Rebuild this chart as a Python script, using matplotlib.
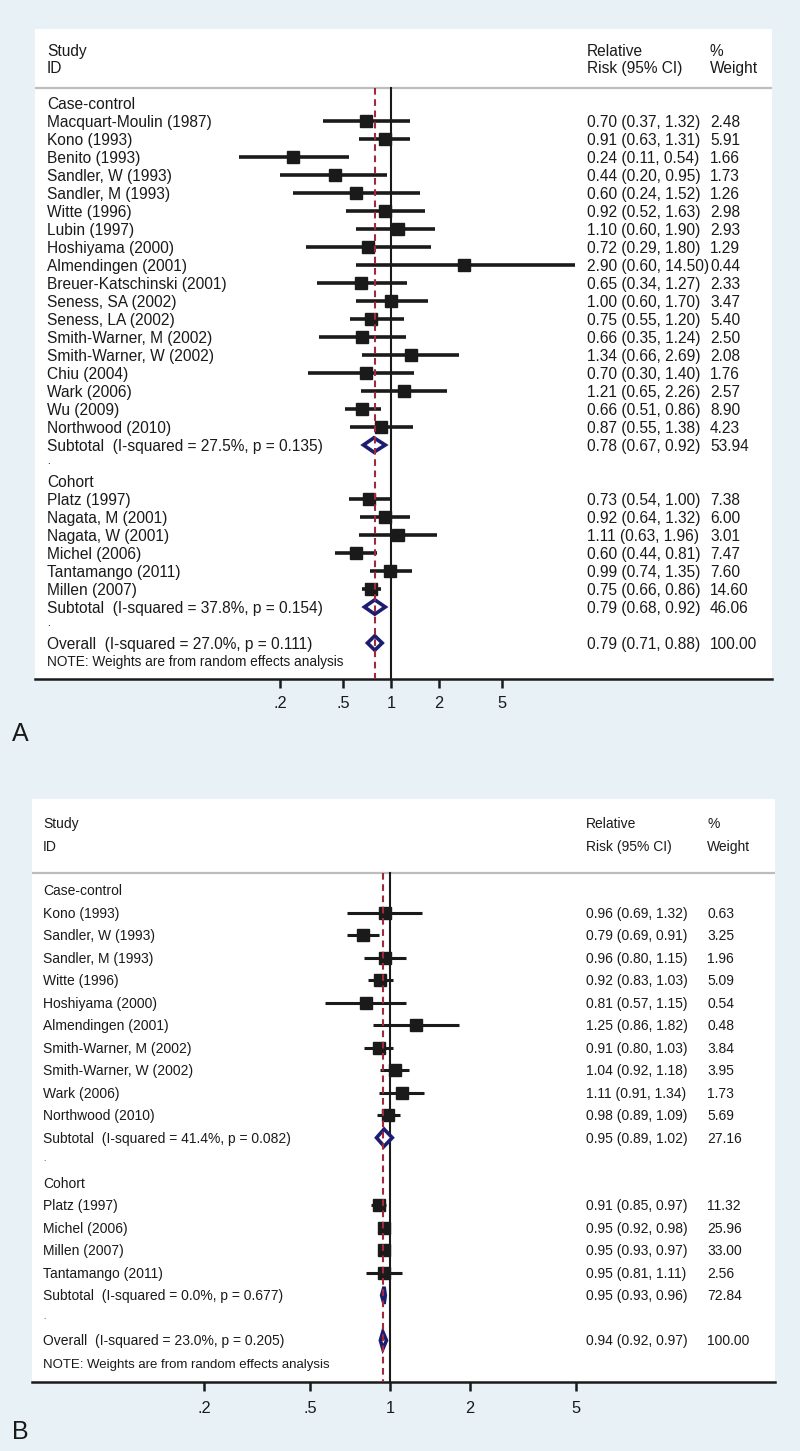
import numpy as np
import matplotlib
matplotlib.use("Agg")
import matplotlib.pyplot as plt
from matplotlib.transforms import blended_transform_factory

plt.rcParams['font.family'] = ['Liberation Sans', 'DejaVu Sans']

# ---------------- Panel A data ----------------
a_cc_names = ["Macquart-Moulin (1987)", "Kono (1993)", "Benito (1993)", "Sandler, W (1993)",
              "Sandler, M (1993)", "Witte (1996)", "Lubin (1997)", "Hoshiyama (2000)",
              "Almendingen (2001)", "Breuer-Katschinski (2001)", "Seness, SA (2002)",
              "Seness, LA (2002)", "Smith-Warner, M (2002)", "Smith-Warner, W (2002)",
              "Chiu (2004)", "Wark (2006)", "Wu (2009)", "Northwood (2010)"]
a_cc_est = [0.70, 0.91, 0.24, 0.44, 0.60, 0.92, 1.10, 0.72, 2.90, 0.65, 1.00, 0.75, 0.66, 1.34, 0.70, 1.21, 0.66, 0.87]
a_cc_lci = [0.37, 0.63, 0.11, 0.20, 0.24, 0.52, 0.60, 0.29, 0.60, 0.34, 0.60, 0.55, 0.35, 0.66, 0.30, 0.65, 0.51, 0.55]
a_cc_uci = [1.32, 1.31, 0.54, 0.95, 1.52, 1.63, 1.90, 1.80, 14.50, 1.27, 1.70, 1.20, 1.24, 2.69, 1.40, 2.26, 0.86, 1.38]
a_cc_w = ["2.48", "5.91", "1.66", "1.73", "1.26", "2.98", "2.93", "1.29", "0.44", "2.33", "3.47",
          "5.40", "2.50", "2.08", "1.76", "2.57", "8.90", "4.23"]
a_cc_sub = dict(label="Subtotal  (I-squared = 27.5%, p = 0.135)", est=0.78, lci=0.67, uci=0.92, w="53.94")

a_co_names = ["Platz (1997)", "Nagata, M (2001)", "Nagata, W (2001)", "Michel (2006)",
              "Tantamango (2011)", "Millen (2007)"]
a_co_est = [0.73, 0.92, 1.11, 0.60, 0.99, 0.75]
a_co_lci = [0.54, 0.64, 0.63, 0.44, 0.74, 0.66]
a_co_uci = [1.00, 1.32, 1.96, 0.81, 1.35, 0.86]
a_co_w = ["7.38", "6.00", "3.01", "7.47", "7.60", "14.60"]
a_co_sub = dict(label="Subtotal  (I-squared = 37.8%, p = 0.154)", est=0.79, lci=0.68, uci=0.92, w="46.06")
a_overall = dict(label="Overall  (I-squared = 27.0%, p = 0.111)", est=0.79, lci=0.71, uci=0.88, w="100.00")

# ---------------- Panel B data ----------------
b_cc_names = ["Kono (1993)", "Sandler, W (1993)", "Sandler, M (1993)", "Witte (1996)",
              "Hoshiyama (2000)", "Almendingen (2001)", "Smith-Warner, M (2002)",
              "Smith-Warner, W (2002)", "Wark (2006)", "Northwood (2010)"]
b_cc_est = [0.96, 0.79, 0.96, 0.92, 0.81, 1.25, 0.91, 1.04, 1.11, 0.98]
b_cc_lci = [0.69, 0.69, 0.80, 0.83, 0.57, 0.86, 0.80, 0.92, 0.91, 0.89]
b_cc_uci = [1.32, 0.91, 1.15, 1.03, 1.15, 1.82, 1.03, 1.18, 1.34, 1.09]
b_cc_w = ["0.63", "3.25", "1.96", "5.09", "0.54", "0.48", "3.84", "3.95", "1.73", "5.69"]
b_cc_sub = dict(label="Subtotal  (I-squared = 41.4%, p = 0.082)", est=0.95, lci=0.89, uci=1.02, w="27.16")

b_co_names = ["Platz (1997)", "Michel (2006)", "Millen (2007)", "Tantamango (2011)"]
b_co_est = [0.91, 0.95, 0.95, 0.95]
b_co_lci = [0.85, 0.92, 0.93, 0.81]
b_co_uci = [0.97, 0.98, 0.97, 1.11]
b_co_w = ["11.32", "25.96", "33.00", "2.56"]
b_co_sub = dict(label="Subtotal  (I-squared = 0.0%, p = 0.677)", est=0.95, lci=0.93, uci=0.96, w="72.84")
b_overall = dict(label="Overall  (I-squared = 23.0%, p = 0.205)", est=0.94, lci=0.92, uci=0.97, w="100.00")

tick_vals = [0.2, 0.5, 1, 2, 5]
tick_labels = [".2", ".5", "1", "2", "5"]
note_text = "NOTE: Weights are from random effects analysis"

# ---------------- styling ----------------
W, H = 800, 1451
BG = "#e8f1f5"
NAVY = "#1d1d70"
RED = "#9e2a3c"
INK = "#1a1a1a"

fig = plt.figure(figsize=(W / 100, H / 100), dpi=100, facecolor=BG)


def build_rows(groups, overall):
    rows = []
    for gname, names, est, lci, uci, w, sub in groups:
        rows.append(("head", gname))
        for i in range(len(names)):
            rows.append(("study", names[i], est[i], lci[i], uci[i], w[i]))
        rows.append(("sub", sub["label"], sub["est"], sub["lci"], sub["uci"], sub["w"]))
        rows.append(("dot", "."))
    rows.append(("sub", overall["label"], overall["est"], overall["lci"], overall["uci"], overall["w"]))
    rows.append(("note", note_text))
    return rows


def panel(box, one_px, decade_px, row0_px, row_px, hdr1_px, hdr2_px, hline_px,
          label_x, ci_x, w_x, fs, note_fs, msize, ci_lw, diam_h, rows, letter, letter_xy, tick_len, tick_pad):
    l, t, r, b = box
    ax = fig.add_axes([l / W, 1 - b / H, (r - l) / W, (b - t) / H])
    ax.set_facecolor("white")
    ax.set_xscale("log")
    ax.set_xlim(10 ** ((l - one_px) / decade_px), 10 ** ((r - one_px) / decade_px))
    to_r = lambda p: (p - row0_px) / row_px
    ax.set_ylim(to_r(b), to_r(t))
    for s in ["top", "left", "right"]:
        ax.spines[s].set_visible(False)
    ax.spines["bottom"].set_linewidth(1.8)
    ax.spines["bottom"].set_color(INK)
    ax.set_yticks([])
    ax.set_xticks(tick_vals)
    ax.set_xticklabels(tick_labels)
    ax.xaxis.set_minor_locator(matplotlib.ticker.NullLocator())
    ax.tick_params(axis="x", length=tick_len, width=1.8, color=INK, pad=tick_pad, labelsize=11.8, labelcolor=INK)

    tr = blended_transform_factory(ax.transAxes, ax.transData)
    fx = lambda p: (p - l) / (r - l)
    # baseline offset: half the cap height (in rows)
    off = 0.36 * fs / 0.72 / row_px
    off_n = 0.36 * note_fs / 0.72 / row_px

    def txt(xp, y, s, size=fs, o=off):
        ax.text(fx(xp), y + o, s, transform=tr, fontsize=size, va="baseline", color=INK)

    # header
    txt(label_x, to_r(hdr1_px), "Study")
    txt(label_x, to_r(hdr2_px), "ID")
    txt(ci_x, to_r(hdr1_px), "Relative")
    txt(ci_x, to_r(hdr2_px), "Risk (95% CI)")
    txt(w_x, to_r(hdr1_px), "%")
    txt(w_x, to_r(hdr2_px), "Weight")
    ax.plot([0, 1], [to_r(hline_px)] * 2, transform=tr, color="#bdbdbd", lw=1.6, solid_capstyle="butt")

    y_top = to_r(hline_px)
    y_bot = to_r(b)
    overall_est = [row for row in rows if row[0] == "sub"][-1][2]
    ax.plot([1, 1], [y_top, y_bot], color=INK, lw=1.5, zorder=2)
    ax.plot([overall_est, overall_est], [y_top, y_bot], color=RED, lw=1.5, ls=(0, (3.2, 2.2)), zorder=6)

    for i, row in enumerate(rows):
        kind = row[0]
        if kind == "head":
            txt(label_x, i, row[1])
        elif kind == "dot":
            txt(label_x, i, row[1], size=fs * 0.6, o=off * 0.2)
        elif kind == "note":
            txt(label_x, i, row[1], size=note_fs, o=off_n)
        else:
            _, name, est, lo, hi, w = row
            txt(label_x, i, name)
            txt(ci_x, i, f"{est:.2f} ({lo:.2f}, {hi:.2f})")
            txt(w_x, i, w)
            if kind == "study":
                ax.plot([lo, hi], [i, i], color=INK, lw=ci_lw, solid_capstyle="butt", zorder=3)
                ax.plot([est], [i], marker="s", ms=msize, color=INK, mec=INK, zorder=3)
            else:
                xs = [lo, est, hi, est, lo]
                ys = [i, i - diam_h, i, i + diam_h, i]
                ax.fill(xs, ys, facecolor="white", edgecolor=NAVY, lw=2.6, joinstyle="miter", zorder=5)

    fig.text(letter_xy[0] / W, 1 - letter_xy[1] / H, letter, fontsize=18, va="center", ha="left", color=INK)
    return ax


rows_a = build_rows([("Case-control", a_cc_names, a_cc_est, a_cc_lci, a_cc_uci, a_cc_w, a_cc_sub),
                     ("Cohort", a_co_names, a_co_est, a_co_lci, a_co_uci, a_co_w, a_co_sub)], a_overall)
rows_b = build_rows([("Case-control", b_cc_names, b_cc_est, b_cc_lci, b_cc_uci, b_cc_w, b_cc_sub),
                     ("Cohort", b_co_names, b_co_est, b_co_lci, b_co_uci, b_co_w, b_co_sub)], b_overall)

panel((35, 29, 772, 679), 391, 158.4, 103, 18.0, 50, 67, 88,
      47, 587, 710, 11.2, 9.8, 8.8, 2.6, 0.40, rows_a, "A", (12, 734), 6.5, 6)
panel((32, 799, 775, 1382), 390, 266.0, 890, 22.52, 823, 846, 873,
      43, 586, 707, 10.0, 9.5, 8.0, 2.2, 0.38, rows_b, "B", (12, 1432), 6.5, 7)

fig.savefig("out.png", dpi=100, facecolor=BG)
